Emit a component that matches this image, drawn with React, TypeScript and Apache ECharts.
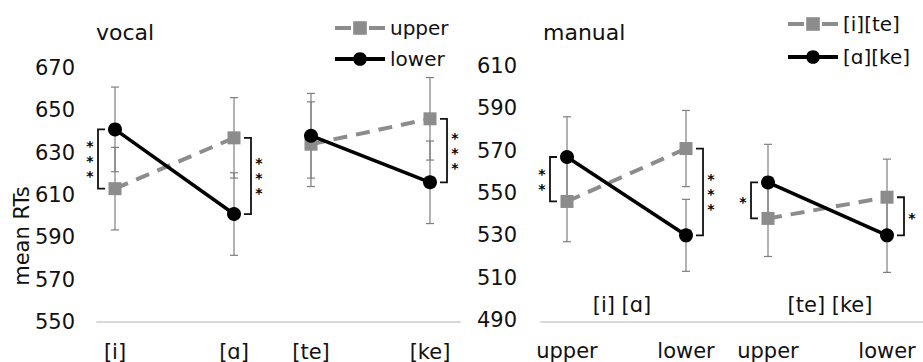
import React, { useEffect, useRef } from 'react';
import * as echarts from 'echarts';

// ---------- data ----------
const vocalCategories = ['[i]', '[ɑ]', '[te]', '[ke]'];
const vocalSeriesNames = ['upper', 'lower'];
const vocalUpper = [613, 637, 634, 646];
const vocalUpperErr = [19.5, 19, 20, 19.5];
const vocalLower = [641, 601, 638, 616];
const vocalLowerErr = [20, 19.5, 20, 19.5];
const vocalStars = ['***', '***', '', '***'];
const vocalYMin = 550;
const vocalYMax = 670;

const manualCategories = ['upper', 'lower', 'upper', 'lower'];
const manualGroupLabels = ['[i] [ɑ]', '[te] [ke]'];
const manualSeriesNames = ['[i][te]', '[ɑ][ke]'];
const manualITe = [546, 571, 538, 548];
const manualITeErr = [19, 18, 18, 18];
const manualAKe = [567, 530, 555, 530];
const manualAKeErr = [19, 17, 18, 17.5];
const manualStars = ['**', '***', '*', '*'];
const manualYMin = 490;
const manualYMax = 610;

const yInterval = 20;
const panelTitles = ['vocal', 'manual'];
const yAxisName = 'mean RTs';

// ---------- styles ----------
const FONT = 'DejaVu Sans';
const GRAY = '#8c8c8c';
const ERR = '#7f7f7f';

function errorSeries(gridIdx: number, vals: number[], errs: number[], start: number, z: number) {
  const data = [0, 1].map((i) => [i, vals[start + i] - errs[start + i], vals[start + i] + errs[start + i]]);
  return {
    type: 'custom',
    xAxisIndex: gridIdx,
    yAxisIndex: gridIdx,
    z,
    silent: true,
    encode: { x: 0, y: [1, 2] },
    data,
    renderItem: (params: any, api: any) => {
      const x = api.value(0);
      const lo = api.coord([x, api.value(1)]);
      const hi = api.coord([x, api.value(2)]);
      const cap = 4;
      const st = { stroke: ERR, lineWidth: 1.2 };
      return {
        type: 'group',
        children: [
          { type: 'line', shape: { x1: lo[0], y1: lo[1], x2: hi[0], y2: hi[1] }, style: st },
          { type: 'line', shape: { x1: lo[0] - cap, y1: lo[1], x2: lo[0] + cap, y2: lo[1] }, style: st },
          { type: 'line', shape: { x1: hi[0] - cap, y1: hi[1], x2: hi[0] + cap, y2: hi[1] }, style: st },
        ],
      };
    },
  };
}

function bracketSeries(gridIdx: number, a: number[], b: number[], stars: string[], start: number) {
  const data: number[][] = [];
  const labels: string[] = [];
  [0, 1].forEach((i) => {
    if (stars[start + i]) {
      data.push([i, a[start + i], b[start + i]]);
      labels.push(stars[start + i]);
    }
  });
  return {
    type: 'custom',
    xAxisIndex: gridIdx,
    yAxisIndex: gridIdx,
    z: 10,
    silent: true,
    encode: { x: 0, y: [1, 2] },
    data,
    renderItem: (params: any, api: any) => {
      const idx = api.value(0);
      const side = idx === 0 ? -1 : 1;
      const p1 = api.coord([idx, api.value(1)]);
      const p2 = api.coord([idx, api.value(2)]);
      const bx = p1[0] + side * 17;
      const inner = bx - side * 7;
      const marks = labels[params.dataIndex].split('');
      const mid = (p1[1] + p2[1]) / 2;
      const starEls = marks.map((m, j) => ({
        type: 'text',
        x: bx + side * 8,
        y: mid + (j - (marks.length - 1) / 2) * 15 + 2,
        style: {
          text: m,
          fill: '#000',
          fontFamily: FONT,
          fontSize: 14,
          fontWeight: 'bold',
          align: 'center',
          verticalAlign: 'middle',
        },
      }));
      return {
        type: 'group',
        children: [
          {
            type: 'polyline',
            shape: { points: [[inner, p1[1]], [bx, p1[1]], [bx, p2[1]], [inner, p2[1]]] },
            style: { stroke: '#111', lineWidth: 1.8, fill: 'none' },
          },
          ...starEls,
        ],
      };
    },
  };
}

function lineSeries(gridIdx: number, name: string, vals: number[], start: number, gray: boolean) {
  return {
    type: 'line',
    name,
    xAxisIndex: gridIdx,
    yAxisIndex: gridIdx,
    z: gray ? 3 : 4,
    data: vals.slice(start, start + 2),
    symbol: gray ? 'rect' : 'circle',
    symbolSize: gray ? 13 : 14,
    itemStyle: { color: gray ? GRAY : '#000' },
    lineStyle: gray
      ? { color: GRAY, width: 4, type: [14, 9] }
      : { color: '#000', width: 3.5 },
  };
}

export default function App() {
  const ref = useRef<HTMLDivElement>(null);

  useEffect(() => {
    if (!ref.current) return;
    const chart = echarts.init(ref.current, undefined, { renderer: 'svg' });

    const dataGrids = [
      { left: 115, top: 68, width: 119, height: 254 },
      { left: 311, top: 68, width: 119, height: 254 },
      { left: 567, top: 66, width: 119, height: 254 },
      { left: 768, top: 66, width: 119, height: 254 },
    ];
    const baseGrids = [
      { left: 97, top: 68, width: 363, height: 254 },
      { left: 541, top: 68, width: 382, height: 254 },
    ];

    const catsOf = (g: number) =>
      g < 2 ? vocalCategories.slice(g * 2, g * 2 + 2) : manualCategories.slice((g - 2) * 2, (g - 2) * 2 + 2);

    const xAxes: any[] = dataGrids.map((_, g) => ({
      type: 'category',
      gridIndex: g,
      data: catsOf(g),
      boundaryGap: false,
      axisLine: { show: false },
      axisTick: { show: false },
      splitLine: { show: false },
      axisLabel: { margin: g < 2 ? 19 : 20, fontSize: 21, color: '#111', fontFamily: FONT },
    }));
    baseGrids.forEach((_, i) => {
      xAxes.push({
        type: 'value',
        gridIndex: 4 + i,
        min: 0,
        max: 1,
        axisLine: { show: true, lineStyle: { color: '#d9d9d9', width: 2 } },
        axisTick: { show: false },
        axisLabel: { show: false },
        splitLine: { show: false },
      });
    });

    const yAxes: any[] = dataGrids.map((_, g) => {
      const vocal = g < 2;
      return {
        type: 'value',
        gridIndex: g,
        min: vocal ? vocalYMin : manualYMin,
        max: vocal ? vocalYMax : manualYMax,
        interval: yInterval,
        axisLine: { show: false },
        axisTick: { show: false },
        splitLine: { show: false },
        axisLabel: {
          show: g === 0 || g === 2,
          margin: g === 0 ? 40 : 50,
          fontSize: 21,
          color: '#111',
          fontFamily: FONT,
        },
      };
    });
    baseGrids.forEach((_, i) => {
      yAxes.push({ type: 'value', gridIndex: 4 + i, show: false, min: 0, max: 1 });
    });

    const series: any[] = [];
    [0, 1].forEach((k) => {
      const g = k;
      const s = k * 2;
      series.push(errorSeries(g, vocalUpper, vocalUpperErr, s, 1));
      series.push(errorSeries(g, vocalLower, vocalLowerErr, s, 1));
      series.push(lineSeries(g, vocalSeriesNames[0], vocalUpper, s, true));
      series.push(lineSeries(g, vocalSeriesNames[1], vocalLower, s, false));
      series.push(bracketSeries(g, vocalLower, vocalUpper, vocalStars, s));
    });
    [0, 1].forEach((k) => {
      const g = 2 + k;
      const s = k * 2;
      series.push(errorSeries(g, manualITe, manualITeErr, s, 1));
      series.push(errorSeries(g, manualAKe, manualAKeErr, s, 1));
      series.push(lineSeries(g, manualSeriesNames[0], manualITe, s, true));
      series.push(lineSeries(g, manualSeriesNames[1], manualAKe, s, false));
      series.push(bracketSeries(g, manualAKe, manualITe, manualStars, s));
    });

    const legendCommon = {
      orient: 'vertical',
      itemWidth: 50,
      itemHeight: 17,
      textStyle: { fontSize: 20, color: '#111', fontFamily: FONT },
      selectedMode: false,
    };
    const legendItems = (names: string[]) => [
      { name: names[0], lineStyle: { type: [16, 18], width: 4, color: GRAY } },
      { name: names[1], lineStyle: { width: 4, color: '#000' } },
    ];

    const textBase = { fontFamily: FONT, fontSize: 21, fill: '#111' };

    chart.setOption({
      animation: false,
      textStyle: { fontFamily: FONT },
      title: [
        { text: panelTitles[0], left: 91, top: 16, textStyle: { fontSize: 22, fontWeight: 'normal', color: '#111', fontFamily: FONT } },
        { text: panelTitles[1], left: 538, top: 16, textStyle: { fontSize: 22, fontWeight: 'normal', color: '#111', fontFamily: FONT } },
      ],
      legend: [
        { ...legendCommon, itemGap: 11, data: legendItems(vocalSeriesNames), left: 328, top: 13 },
        { ...legendCommon, itemGap: 13, data: legendItems(manualSeriesNames), left: 781, top: 9 },
      ],
      grid: [...dataGrids, ...baseGrids],
      xAxis: xAxes,
      yAxis: yAxes,
      series,
      graphic: [
        ...manualGroupLabels.map((t, i) => ({
          type: 'text',
          x: i === 0 ? 622 : 830,
          y: 305,
          style: { ...textBase, text: t, align: 'center', verticalAlign: 'middle' },
        })),
        {
          type: 'text',
          x: 22,
          y: 236,
          rotation: Math.PI / 2,
          style: { ...textBase, text: yAxisName, align: 'center', verticalAlign: 'middle' },
        },
      ],
    });

    return () => chart.dispose();
  }, []);

  return (
    <div
      ref={ref}
      style={{ position: 'absolute', left: 0, top: 0, width: 923, height: 362, background: '#fff' }}
    />
  );
}
